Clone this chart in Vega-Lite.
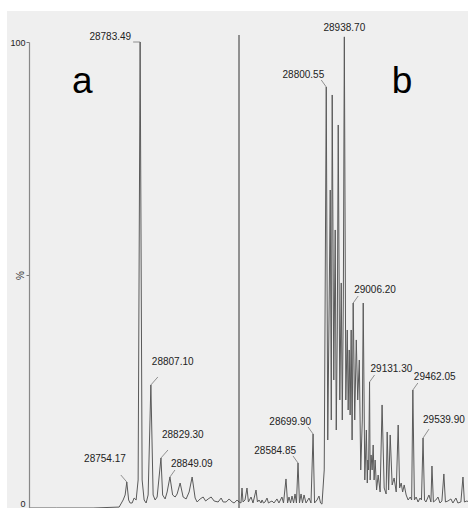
{
  "$schema": "https://vega.github.io/schema/vega-lite/v6.json",
  "background": "white",
  "padding": {"left": 6, "top": 11, "right": 0, "bottom": 0},
  "spacing": 0,
  "bounds": "flush",
  "config": {"view": {"stroke": null}, "concat": {"spacing": 0}, "text": {"font": "Liberation Sans"}},
  "datasets": {
    "specA": [
      {"mz": 28539, "pct": 0}, {"mz": 28600, "pct": 0}, {"mz": 28680, "pct": 0}, {"mz": 28737.3, "pct": 0.2},
      {"mz": 28746.1, "pct": 1.72}, {"mz": 28750.5, "pct": 2.79}, {"mz": 28754.17, "pct": 5.58}, {"mz": 28758.2, "pct": 1.72},
      {"mz": 28761.5, "pct": 1.07}, {"mz": 28765.9, "pct": 1.07}, {"mz": 28770.3, "pct": 2.14}, {"mz": 28774.7, "pct": 1.72},
      {"mz": 28779.1, "pct": 6.01}, {"mz": 28783.49, "pct": 100}, {"mz": 28787.9, "pct": 6.01}, {"mz": 28792.3, "pct": 1.72},
      {"mz": 28796.7, "pct": 1.07}, {"mz": 28801.1, "pct": 2.79}, {"mz": 28807.1, "pct": 26.4}, {"mz": 28812.1, "pct": 2.79},
      {"mz": 28816.5, "pct": 1.72}, {"mz": 28820.9, "pct": 2.36}, {"mz": 28829.3, "pct": 10.73}, {"mz": 28833.0, "pct": 2.79},
      {"mz": 28838.5, "pct": 1.94}, {"mz": 28842.9, "pct": 3.44}, {"mz": 28849.09, "pct": 6.65}, {"mz": 28855.0, "pct": 2.79},
      {"mz": 28860.5, "pct": 2.36}, {"mz": 28864.9, "pct": 3.01}, {"mz": 28871.5, "pct": 5.36}, {"mz": 28878.1, "pct": 2.36},
      {"mz": 28884.7, "pct": 1.94}, {"mz": 28891.3, "pct": 3.44}, {"mz": 28897.9, "pct": 6.65}, {"mz": 28904.5, "pct": 2.14},
      {"mz": 28908.9, "pct": 1.29}, {"mz": 28915.5, "pct": 1.94}, {"mz": 28922.1, "pct": 2.36}, {"mz": 28927.6, "pct": 1.5},
      {"mz": 28933.1, "pct": 1.94}, {"mz": 28939.7, "pct": 2.36}, {"mz": 28946.3, "pct": 1.5}, {"mz": 28955.1, "pct": 1.29},
      {"mz": 28961.7, "pct": 2.14}, {"mz": 28966.1, "pct": 1.29}, {"mz": 28972.7, "pct": 1.29}, {"mz": 28979.3, "pct": 1.94},
      {"mz": 28985.9, "pct": 1.29}, {"mz": 28990.3, "pct": 1.07}, {"mz": 28996.9, "pct": 1.72}, {"mz": 29001, "pct": 1.29}
    ],
    "specB": [
      {"mz": 28134, "pct": 1.29}, {"mz": 28149, "pct": 1.07}, {"mz": 28157, "pct": 4.29}, {"mz": 28165, "pct": 1.29},
      {"mz": 28180, "pct": 1.72}, {"mz": 28195, "pct": 4.29}, {"mz": 28206, "pct": 1.29}, {"mz": 28226, "pct": 2.36},
      {"mz": 28241, "pct": 1.07}, {"mz": 28264, "pct": 3.86}, {"mz": 28275, "pct": 1.29}, {"mz": 28287, "pct": 1.72},
      {"mz": 28302, "pct": 1.07}, {"mz": 28310, "pct": 1.72}, {"mz": 28321, "pct": 1.07}, {"mz": 28333, "pct": 1.29},
      {"mz": 28348, "pct": 2.14}, {"mz": 28359, "pct": 1.07}, {"mz": 28371, "pct": 1.29}, {"mz": 28386, "pct": 1.5},
      {"mz": 28401, "pct": 1.07}, {"mz": 28424, "pct": 1.94}, {"mz": 28439, "pct": 1.07}, {"mz": 28462, "pct": 2.36},
      {"mz": 28474, "pct": 1.07}, {"mz": 28493, "pct": 6.23}, {"mz": 28505, "pct": 1.07}, {"mz": 28516, "pct": 2.36},
      {"mz": 28528, "pct": 1.07}, {"mz": 28539, "pct": 2.57}, {"mz": 28551, "pct": 1.07}, {"mz": 28562, "pct": 3.01},
      {"mz": 28573, "pct": 1.07}, {"mz": 28584.85, "pct": 9.66}, {"mz": 28596, "pct": 1.07}, {"mz": 28608, "pct": 3.01},
      {"mz": 28619, "pct": 1.07}, {"mz": 28631, "pct": 2.79}, {"mz": 28646, "pct": 1.07}, {"mz": 28669, "pct": 2.14},
      {"mz": 28684, "pct": 1.07}, {"mz": 28699.9, "pct": 15.88}, {"mz": 28711, "pct": 1.07}, {"mz": 28730, "pct": 1.72},
      {"mz": 28745, "pct": 2.57}, {"mz": 28757, "pct": 1.07}, {"mz": 28768, "pct": 0.84}, {"mz": 28785, "pct": 8.16},
      {"mz": 28800.55, "pct": 90.35}, {"mz": 28812, "pct": 14.59}, {"mz": 28823, "pct": 44.64}, {"mz": 28831, "pct": 68.24},
      {"mz": 28839, "pct": 18.89}, {"mz": 28846, "pct": 88.63}, {"mz": 28858, "pct": 27.47}, {"mz": 28869, "pct": 59.66},
      {"mz": 28877, "pct": 16.74}, {"mz": 28885, "pct": 38.2}, {"mz": 28892, "pct": 82.19}, {"mz": 28904, "pct": 23.18},
      {"mz": 28915, "pct": 48.29}, {"mz": 28923, "pct": 18.89}, {"mz": 28931, "pct": 44.64}, {"mz": 28938.7, "pct": 101.1},
      {"mz": 28950, "pct": 23.18}, {"mz": 28961, "pct": 38.2}, {"mz": 28968, "pct": 21.03}, {"mz": 28976, "pct": 33.91},
      {"mz": 28983, "pct": 19.96}, {"mz": 28991, "pct": 38.2}, {"mz": 28998, "pct": 14.59}, {"mz": 29006.2, "pct": 43.99},
      {"mz": 29018, "pct": 18.89}, {"mz": 29030, "pct": 36.06}, {"mz": 29041, "pct": 23.18}, {"mz": 29053, "pct": 31.76},
      {"mz": 29064, "pct": 8.16}, {"mz": 29076, "pct": 18.89}, {"mz": 29083, "pct": 43.99}, {"mz": 29095, "pct": 6.01},
      {"mz": 29107, "pct": 16.74}, {"mz": 29114, "pct": 5.36}, {"mz": 29118, "pct": 10.3}, {"mz": 29124, "pct": 8.16},
      {"mz": 29131.3, "pct": 27.04}, {"mz": 29136, "pct": 6.01}, {"mz": 29143, "pct": 11.38}, {"mz": 29151, "pct": 8.16},
      {"mz": 29159, "pct": 13.52}, {"mz": 29166, "pct": 6.01}, {"mz": 29174, "pct": 10.3}, {"mz": 29185, "pct": 3.86},
      {"mz": 29197, "pct": 7.08}, {"mz": 29212, "pct": 3.44}, {"mz": 29227, "pct": 22.11}, {"mz": 29243, "pct": 4.29},
      {"mz": 29258, "pct": 3.01}, {"mz": 29266, "pct": 16.31}, {"mz": 29277, "pct": 3.86}, {"mz": 29289, "pct": 15.67},
      {"mz": 29304, "pct": 4.94}, {"mz": 29319, "pct": 6.44}, {"mz": 29335, "pct": 3.44}, {"mz": 29350, "pct": 17.81},
      {"mz": 29361, "pct": 4.29}, {"mz": 29373, "pct": 5.36}, {"mz": 29384, "pct": 3.44}, {"mz": 29396, "pct": 4.94},
      {"mz": 29411, "pct": 2.79}, {"mz": 29426, "pct": 1.72}, {"mz": 29442, "pct": 2.36}, {"mz": 29453, "pct": 1.72},
      {"mz": 29462.05, "pct": 25.32}, {"mz": 29474, "pct": 1.72}, {"mz": 29487, "pct": 2.36}, {"mz": 29502, "pct": 1.29},
      {"mz": 29517, "pct": 2.14}, {"mz": 29528, "pct": 1.72}, {"mz": 29539.9, "pct": 15.02}, {"mz": 29551, "pct": 1.72},
      {"mz": 29562, "pct": 1.29}, {"mz": 29585, "pct": 2.79}, {"mz": 29600, "pct": 1.29}, {"mz": 29608, "pct": 9.01},
      {"mz": 29619, "pct": 1.29}, {"mz": 29638, "pct": 1.72}, {"mz": 29654, "pct": 2.36}, {"mz": 29669, "pct": 1.07},
      {"mz": 29684, "pct": 1.5}, {"mz": 29699, "pct": 7.3}, {"mz": 29711, "pct": 1.29}, {"mz": 29730, "pct": 1.5},
      {"mz": 29753, "pct": 1.94}, {"mz": 29768, "pct": 1.07}, {"mz": 29791, "pct": 2.14}, {"mz": 29806, "pct": 1.07},
      {"mz": 29829, "pct": 1.29}, {"mz": 29845, "pct": 6.65}, {"mz": 29856, "pct": 1.29}, {"mz": 29875, "pct": 1.5},
      {"mz": 29891, "pct": 1.29}
    ],
    "peaksA": [
      {"mz": 28754.17, "pct": 5.58, "label": "28754.17"},
      {"mz": 28783.49, "pct": 100, "label": "28783.49"},
      {"mz": 28807.1, "pct": 26.4, "label": "28807.10"},
      {"mz": 28829.3, "pct": 10.73, "label": "28829.30"},
      {"mz": 28849.09, "pct": 6.65, "label": "28849.09"}
    ],
    "peaksB": [
      {"mz": 28584.85, "pct": 9.66, "label": "28584.85"},
      {"mz": 28699.9, "pct": 15.88, "label": "28699.90"},
      {"mz": 28800.55, "pct": 90.35, "label": "28800.55"},
      {"mz": 28938.7, "pct": 101.1, "label": "28938.70"},
      {"mz": 29006.2, "pct": 43.99, "label": "29006.20"},
      {"mz": 29131.3, "pct": 27.04, "label": "29131.30"},
      {"mz": 29462.05, "pct": 25.32, "label": "29462.05"},
      {"mz": 29539.9, "pct": 15.02, "label": "29539.90"}
    ],
    "tags": [
      {"panel": "a", "mz": 28656, "pct": 89.06, "tag": "a"},
      {"panel": "b", "mz": 29379, "pct": 89.06, "tag": "b"}
    ]
  },
  "hconcat": [
    {
      "width": 210,
      "height": 466,
      "layer": [
        {
          "data": {"values": [{}]},
          "mark": {"type": "rect", "fill": "#efefef", "clip": false},
          "encoding": {
            "x": {"datum": 28490.6, "type": "quantitative", "scale": {"domain": [28539, 29001], "nice": false, "zero": false}, "axis": null},
            "x2": {"datum": 29001},
            "y": {"datum": 0, "type": "quantitative", "scale": {"domain": [0, 100], "nice": false, "zero": false},
              "axis": {
                "zindex": 2,
                "values": [0, 50, 100],
                "labelExpr": "datum.value == 50 ? '' : datum.label",
                "title": "%",
                "titleX": -9,
                "titleY": 233,
                "titleAngle": 270,
                "titleAlign": "center",
                "titleBaseline": "middle",
                "titleFont": "Liberation Sans",
                "titleFontSize": 10,
                "titleFontWeight": "normal",
                "titleColor": "#333",
                "labelFont": "Liberation Sans",
                "labelFontSize": 9,
                "labelColor": "#222",
                "labelPadding": 1,
                "labelBaseline": {"condition": {"test": "datum.value == 0", "value": "bottom"}, "value": "middle"},
                "tickSize": 3,
                "tickColor": "#777",
                "domainColor": "#888",
                "domainWidth": 1.2,
                "grid": false
              }
            },
            "y2": {"datum": 106.65}
          }
        },
        {
          "data": {"name": "specA"},
          "mark": {"type": "line", "color": "#5a5a5a", "strokeWidth": 1},
          "encoding": {
            "x": {"field": "mz", "type": "quantitative", "axis": null},
            "y": {"field": "pct", "type": "quantitative"}
          }
        },
        {
          "data": {"name": "peaksA"},
          "transform": [{"filter": {"field": "label", "oneOf": ["28783.49"]}}],
          "layer": [
            {
              "mark": {"type": "rule", "color": "#777", "strokeWidth": 0.8, "x2Offset": -7, "y2Offset": 0},
              "encoding": {
                "x": {"field": "mz", "type": "quantitative", "axis": null},
                "y": {"field": "pct", "type": "quantitative"},
                "x2": {"field": "mz"},
                "y2": {"field": "pct"}
              }
            },
            {
              "mark": {"type": "text", "align": "right", "baseline": "middle", "dx": -9, "dy": -5, "fontSize": 10, "color": "#222", "font": "Liberation Sans"},
              "encoding": {
                "x": {"field": "mz", "type": "quantitative", "axis": null},
                "y": {"field": "pct", "type": "quantitative"},
                "text": {"field": "label"}
              }
            }
          ]
        },
        {
          "data": {"name": "peaksA"},
          "transform": [{"filter": {"field": "label", "oneOf": ["28754.17"]}}],
          "layer": [
            {
              "mark": {"type": "rule", "color": "#777", "strokeWidth": 0.8, "x2Offset": -6, "y2Offset": -7},
              "encoding": {
                "x": {"field": "mz", "type": "quantitative", "axis": null},
                "y": {"field": "pct", "type": "quantitative"},
                "x2": {"field": "mz"},
                "y2": {"field": "pct"}
              }
            },
            {
              "mark": {"type": "text", "align": "right", "baseline": "middle", "dx": -1, "dy": -23, "fontSize": 10, "color": "#222", "font": "Liberation Sans"},
              "encoding": {
                "x": {"field": "mz", "type": "quantitative", "axis": null},
                "y": {"field": "pct", "type": "quantitative"},
                "text": {"field": "label"}
              }
            }
          ]
        },
        {
          "data": {"name": "peaksA"},
          "transform": [{"filter": {"field": "label", "oneOf": ["28807.10", "28829.30"]}}],
          "layer": [
            {
              "mark": {"type": "rule", "color": "#777", "strokeWidth": 0.8, "x2Offset": 7, "y2Offset": -8},
              "encoding": {
                "x": {"field": "mz", "type": "quantitative", "axis": null},
                "y": {"field": "pct", "type": "quantitative"},
                "x2": {"field": "mz"},
                "y2": {"field": "pct"}
              }
            },
            {
              "mark": {"type": "text", "align": "left", "baseline": "middle", "dx": 1, "dy": -23, "fontSize": 10, "color": "#222", "font": "Liberation Sans"},
              "encoding": {
                "x": {"field": "mz", "type": "quantitative", "axis": null},
                "y": {"field": "pct", "type": "quantitative"},
                "text": {"field": "label"}
              }
            }
          ]
        },
        {
          "data": {"name": "peaksA"},
          "transform": [{"filter": {"field": "label", "oneOf": ["28849.09"]}}],
          "layer": [
            {
              "mark": {"type": "rule", "color": "#777", "strokeWidth": 0.8, "x2Offset": 5, "y2Offset": -7},
              "encoding": {
                "x": {"field": "mz", "type": "quantitative", "axis": null},
                "y": {"field": "pct", "type": "quantitative"},
                "x2": {"field": "mz"},
                "y2": {"field": "pct"}
              }
            },
            {
              "mark": {"type": "text", "align": "left", "baseline": "middle", "dx": 1, "dy": -13, "fontSize": 10, "color": "#222", "font": "Liberation Sans"},
              "encoding": {
                "x": {"field": "mz", "type": "quantitative", "axis": null},
                "y": {"field": "pct", "type": "quantitative"},
                "text": {"field": "label"}
              }
            }
          ]
        },
        {
          "data": {"name": "tags"},
          "transform": [{"filter": "datum.panel == 'a'"}],
          "mark": {"type": "text", "align": "center", "baseline": "alphabetic", "fontSize": 37, "color": "#000", "font": "Liberation Sans"},
          "encoding": {
            "x": {"field": "mz", "type": "quantitative", "axis": null},
            "y": {"field": "pct", "type": "quantitative"},
            "text": {"field": "tag"}
          }
        }
      ]
    },
    {
      "width": 230,
      "height": 466,
      "layer": [
        {
          "data": {"values": [{}]},
          "mark": {"type": "rect", "fill": "#efefef", "clip": false},
          "encoding": {
            "x": {"datum": 28134, "type": "quantitative", "scale": {"domain": [28134, 29891], "nice": false, "zero": false}, "axis": null},
            "x2": {"datum": 29891},
            "y": {"datum": 0, "type": "quantitative", "scale": {"domain": [0, 100], "nice": false, "zero": false}, "axis": null},
            "y2": {"datum": 106.65}
          }
        },
        {
          "data": {"values": [{}]},
          "mark": {"type": "rule", "color": "#333", "strokeWidth": 1},
          "encoding": {
            "x": {"datum": 28134, "type": "quantitative", "axis": null},
            "y": {"datum": 0, "type": "quantitative", "axis": null},
            "y2": {"datum": 101.5}
          }
        },
        {
          "data": {"name": "specB"},
          "mark": {"type": "line", "color": "#5a5a5a", "strokeWidth": 1},
          "encoding": {
            "x": {"field": "mz", "type": "quantitative", "axis": null},
            "y": {"field": "pct", "type": "quantitative", "axis": null}
          }
        },
        {
          "data": {"name": "peaksB"},
          "transform": [{"filter": {"field": "label", "oneOf": ["28584.85", "28699.90", "28800.55"]}}],
          "layer": [
            {
              "mark": {"type": "rule", "color": "#777", "strokeWidth": 0.8, "x2Offset": -5, "y2Offset": -7},
              "encoding": {
                "x": {"field": "mz", "type": "quantitative", "axis": null},
                "y": {"field": "pct", "type": "quantitative", "axis": null},
                "x2": {"field": "mz"},
                "y2": {"field": "pct"}
              }
            },
            {
              "mark": {"type": "text", "align": "right", "baseline": "middle", "dx": -2, "dy": -12, "fontSize": 10, "color": "#222", "font": "Liberation Sans"},
              "encoding": {
                "x": {"field": "mz", "type": "quantitative", "axis": null},
                "y": {"field": "pct", "type": "quantitative", "axis": null},
                "text": {"field": "label"}
              }
            }
          ]
        },
        {
          "data": {"name": "peaksB"},
          "transform": [{"filter": {"field": "label", "oneOf": ["29006.20", "29131.30", "29462.05"]}}],
          "layer": [
            {
              "mark": {"type": "rule", "color": "#777", "strokeWidth": 0.8, "x2Offset": 5, "y2Offset": -7},
              "encoding": {
                "x": {"field": "mz", "type": "quantitative", "axis": null},
                "y": {"field": "pct", "type": "quantitative", "axis": null},
                "x2": {"field": "mz"},
                "y2": {"field": "pct"}
              }
            },
            {
              "mark": {"type": "text", "align": "left", "baseline": "middle", "dx": 1, "dy": -13, "fontSize": 10, "color": "#222", "font": "Liberation Sans"},
              "encoding": {
                "x": {"field": "mz", "type": "quantitative", "axis": null},
                "y": {"field": "pct", "type": "quantitative", "axis": null},
                "text": {"field": "label"}
              }
            }
          ]
        },
        {
          "data": {"name": "peaksB"},
          "transform": [{"filter": {"field": "label", "oneOf": ["29539.90"]}}],
          "layer": [
            {
              "mark": {"type": "rule", "color": "#777", "strokeWidth": 0.8, "x2Offset": 6, "y2Offset": -9},
              "encoding": {
                "x": {"field": "mz", "type": "quantitative", "axis": null},
                "y": {"field": "pct", "type": "quantitative", "axis": null},
                "x2": {"field": "mz"},
                "y2": {"field": "pct"}
              }
            },
            {
              "mark": {"type": "text", "align": "left", "baseline": "middle", "dx": 0, "dy": -18, "fontSize": 10, "color": "#222", "font": "Liberation Sans"},
              "encoding": {
                "x": {"field": "mz", "type": "quantitative", "axis": null},
                "y": {"field": "pct", "type": "quantitative", "axis": null},
                "text": {"field": "label"}
              }
            }
          ]
        },
        {
          "data": {"name": "peaksB"},
          "transform": [{"filter": {"field": "label", "oneOf": ["28938.70"]}}],
          "mark": {"type": "text", "align": "center", "baseline": "middle", "dy": -9, "fontSize": 10, "color": "#222", "font": "Liberation Sans"},
          "encoding": {
            "x": {"field": "mz", "type": "quantitative", "axis": null},
            "y": {"field": "pct", "type": "quantitative", "axis": null},
            "text": {"field": "label"}
          }
        },
        {
          "data": {"name": "tags"},
          "transform": [{"filter": "datum.panel == 'b'"}],
          "mark": {"type": "text", "align": "center", "baseline": "alphabetic", "fontSize": 37, "color": "#000", "font": "Liberation Sans"},
          "encoding": {
            "x": {"field": "mz", "type": "quantitative", "axis": null},
            "y": {"field": "pct", "type": "quantitative", "axis": null},
            "text": {"field": "tag"}
          }
        }
      ]
    }
  ]
}
